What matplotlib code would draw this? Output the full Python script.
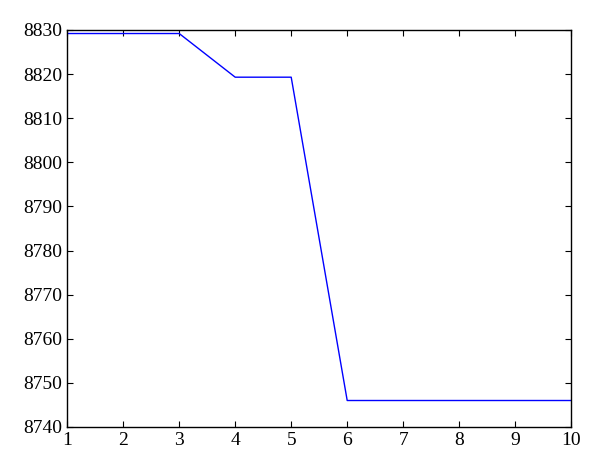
import matplotlib.pyplot as plt

x = [1, 2, 3, 4, 5, 6, 7, 8, 9, 10]
y = [8829.2, 8829.2, 8829.2, 8819.3, 8819.3, 8746, 8746, 8746, 8746, 8746]

plt.rcParams['font.family'] = ['Liberation Serif', 'DejaVu Serif']

fig = plt.figure(figsize=(6, 4.76), dpi=100)
ax = fig.add_axes([0.112, 0.103, 0.84, 0.834])
ax.plot(x, y, color='#0000ff', linewidth=1)
ax.set_xlim(1, 10)
ax.set_ylim(8740, 8830)
ax.set_xticks(range(1, 11))
ax.set_yticks(range(8740, 8831, 10))
ax.tick_params(direction='in', top=True, right=True, labelsize=14, length=4, width=0.8)
for s in ax.spines.values():
    s.set_linewidth(1)
fig.savefig('out.png', dpi=100)
